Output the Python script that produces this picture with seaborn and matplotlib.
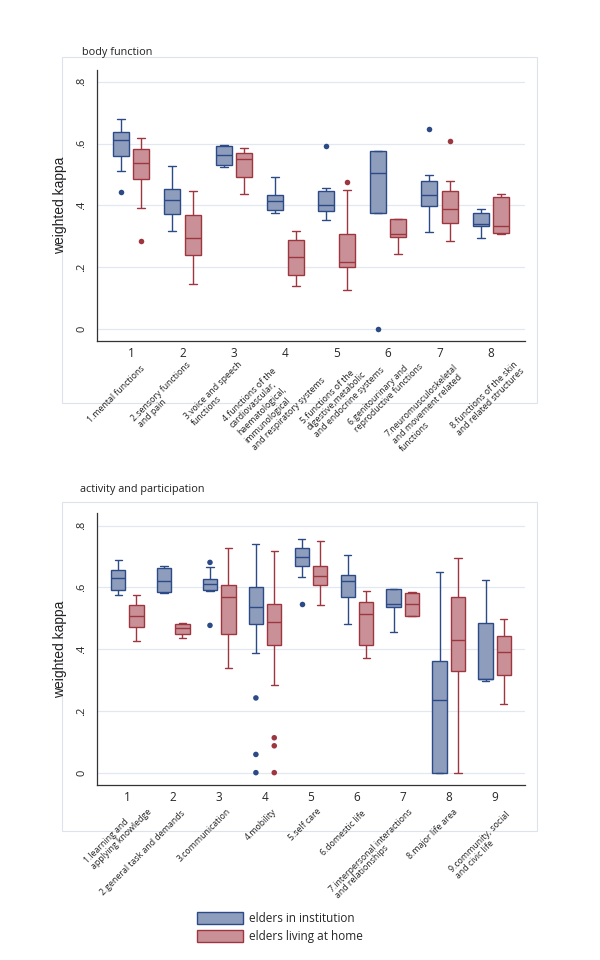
import matplotlib.pyplot as plt
import matplotlib.patches as mpatches
from matplotlib.font_manager import FontProperties
import numpy as np
import pandas as pd
import seaborn as sns

# --- データ（図から読み取った値: 下ひげ, Q1, 中央値, Q3, 上ひげ）---
groups = ['elders in institution', 'elders living at home']

bf_labels = ['1.mental functions',
             '2.sensory functions\nand pain',
             '3.voice and speech\nfunctions',
             '4.functions of the\ncardiovascular,\nhaematological,\nimmunological\nand respiratory systems',
             '5.functions of the\ndigestive,metabolic\nand endocrine systems',
             '6.genitourinary and\nreproductive functions',
             '7.neuromusculoskeletal\nand movement related\nfunctions',
             '8.functions of the skin\nand related structures']
bf_inst = [[0.510, 0.559, 0.613, 0.636, 0.678],
           [0.317, 0.372, 0.418, 0.452, 0.528],
           [0.523, 0.529, 0.562, 0.592, 0.596],
           [0.374, 0.384, 0.413, 0.434, 0.492],
           [0.351, 0.381, 0.402, 0.445, 0.455],
           [0.375, 0.375, 0.506, 0.577, 0.577],
           [0.314, 0.398, 0.434, 0.480, 0.499],
           [0.293, 0.333, 0.340, 0.376, 0.387]]
bf_home = [[0.391, 0.486, 0.536, 0.583, 0.619],
           [0.147, 0.238, 0.295, 0.370, 0.445],
           [0.438, 0.492, 0.550, 0.569, 0.585],
           [0.138, 0.175, 0.232, 0.287, 0.318],
           [0.126, 0.200, 0.216, 0.308, 0.451],
           [0.243, 0.299, 0.307, 0.355, 0.355],
           [0.285, 0.343, 0.387, 0.447, 0.480],
           [0.307, 0.309, 0.333, 0.428, 0.438]]
bf_inst_out = [[0.442], [], [], [], [0.591], [0.0], [0.647], []]
bf_home_out = [[0.285], [], [], [], [0.476], [], [0.609], []]

ap_labels = ['1.learning and\napplying knowledge',
             '2.general task and demands',
             '3.communication',
             '4.mobility',
             '5.self care',
             '6.domestic life',
             '7.interpersonal interactions\nand relationships',
             '8.major life area',
             '9.community, social\nand civic life']
ap_inst = [[0.574, 0.592, 0.632, 0.655, 0.688],
           [0.583, 0.585, 0.622, 0.662, 0.670],
           [0.588, 0.593, 0.611, 0.626, 0.667],
           [0.386, 0.481, 0.537, 0.601, 0.740],
           [0.633, 0.669, 0.697, 0.727, 0.758],
           [0.483, 0.569, 0.620, 0.639, 0.706],
           [0.456, 0.537, 0.546, 0.594, 0.596],
           [0.000, 0.000, 0.235, 0.361, 0.651],
           [0.298, 0.302, 0.303, 0.484, 0.624]]
ap_home = [[0.428, 0.473, 0.508, 0.543, 0.577],
           [0.436, 0.448, 0.467, 0.483, 0.486],
           [0.339, 0.450, 0.568, 0.607, 0.728],
           [0.284, 0.412, 0.488, 0.546, 0.719],
           [0.543, 0.609, 0.638, 0.670, 0.751],
           [0.371, 0.413, 0.513, 0.552, 0.589],
           [0.506, 0.506, 0.545, 0.582, 0.584],
           [0.000, 0.328, 0.430, 0.568, 0.695],
           [0.223, 0.315, 0.392, 0.444, 0.499]]
ap_inst_out = [[], [], [0.681, 0.477], [0.242, 0.059, 0.0], [0.545], [], [], [], []]
ap_home_out = [[], [], [], [0.113, 0.087, 0.0], [], [], [], [], []]

yticks = [0, 0.2, 0.4, 0.6, 0.8]
ytick_labels = ['0', '.2', '.4', '.6', '.8']

# 回転ラベル1行目の右端の位置（目盛りからのずれ, px）
bf_lab_dx = [12, 7, 7, -10, 16, 18, 17, 25]
bf_lab_dy = [26, 22, 22, 28, 30, 26, 25, 22]
ap_lab_dx = [0, 11, 10, 10, 9, 8, 8, 7, 14]
ap_lab_dy = [35, 27, 25, 25, 25, 27, 25, 25, 28]

# --- スタイル ---
fills = ['#8e9dbc', '#c99197']
edges = ['#2b4a86', '#9e3640']
sns.set_style('white')
plt.rcParams['font.family'] = ['Open Sans', 'DejaVu Sans']
LAB_FS = 6.3
LAB_LS = 1.25


def make_long(cats, inst, home):
    rows = []
    for c, a, b in zip(cats, inst, home):
        rows += [(c, groups[0], v) for v in a]
        rows += [(c, groups[1], v) for v in b]
    return pd.DataFrame(rows, columns=['cat', 'group', 'value'])


def rotated_labels(fig, ax, labels, dxs, dys):
    # 1行目を右端で合わせ、残りの行は1行目の左端から左揃えで続ける
    renderer = fig.canvas.get_renderer()
    prop = FontProperties(family=['Open Sans', 'DejaVu Sans'], size=LAB_FS)
    d = np.array([1, 1]) / np.sqrt(2)
    n = np.array([1, -1]) / np.sqrt(2)
    step = LAB_FS * fig.dpi / 72 * LAB_LS
    kw = dict(xycoords='figure pixels', rotation=45, rotation_mode='anchor',
              fontsize=LAB_FS, color='#222222')
    for i, lab in enumerate(labels):
        first, *rest = lab.split('\n')
        p = ax.get_xaxis_transform().transform((i, 0)) + [dxs[i], -dys[i]]
        ax.annotate(first, xy=p, ha='right', va='center', **kw)
        if rest:
            w, _, _ = renderer.get_text_width_height_descent(first, prop, False)
            s = p - w * d + 0.45 * step * n
            ax.annotate('\n'.join(rest), xy=s, ha='left', va='top',
                        ma='left', linespacing=LAB_LS, **kw)


def draw_panel(ax, labels, inst, home, inst_out, home_out, ylim):
    cats = [str(i + 1) for i in range(len(labels))]
    box_df = make_long(cats, inst, home)
    out_df = make_long(cats, inst_out, home_out)
    for g, edge in zip(groups, edges):
        sns.boxplot(data=box_df[box_df['group'] == g], x='cat', y='value',
                    hue='group', order=cats, hue_order=groups, dodge=True,
                    palette=dict(zip(groups, fills)), saturation=1,
                    whis=(0, 100), showfliers=False, width=0.8, gap=0.22,
                    linewidth=1.0, linecolor=edge, legend=False, ax=ax)
    sns.stripplot(data=out_df, x='cat', y='value', hue='group', order=cats,
                  hue_order=groups, palette=dict(zip(groups, edges)),
                  dodge=True, jitter=False, size=4, legend=False, ax=ax,
                  zorder=5)

    ax.set_xlim(-0.66, len(cats) - 1 + 0.66)
    ax.set_ylim(*ylim)
    ax.set_yticks(yticks)
    ax.set_yticklabels(ytick_labels, rotation=90, va='center')
    ax.set_xlabel('')
    ax.set_ylabel('weighted kappa', family=['Liberation Sans', 'DejaVu Sans'],
                  fontsize=10, color='#222222')
    ax.yaxis.set_label_coords(-0.07, 0.5)
    ax.yaxis.grid(True, color='#e3e8f0', lw=0.9)
    ax.set_axisbelow(True)
    ax.tick_params(axis='y', length=5, width=0.8, color='#333333',
                   labelsize=8, pad=2)
    ax.tick_params(axis='x', length=0, labelsize=8.5, pad=4)
    for s in ['top', 'right']:
        ax.spines[s].set_visible(False)
    for s in ['left', 'bottom']:
        ax.spines[s].set_color('#333333')
        ax.spines[s].set_linewidth(0.9)


fig = plt.figure(figsize=(6, 9.6), dpi=100)
ax1 = fig.add_axes([97 / 600, 1 - 341 / 960, 428 / 600, 271 / 960])
ax2 = fig.add_axes([97 / 600, 1 - 785 / 960, 428 / 600, 272 / 960])

draw_panel(ax1, bf_labels, bf_inst, bf_home, bf_inst_out, bf_home_out,
           (-0.039, 0.838))
draw_panel(ax2, ap_labels, ap_inst, ap_home, ap_inst_out, ap_home_out,
           (-0.040, 0.841))
rotated_labels(fig, ax1, bf_labels, bf_lab_dx, bf_lab_dy)
rotated_labels(fig, ax2, ap_labels, ap_lab_dx, ap_lab_dy)

# パネル枠とタイトル
for top, bottom in [(57.5, 403), (502, 831)]:
    fig.add_artist(mpatches.Rectangle(
        (62 / 600, 1 - bottom / 960), 475 / 600, (bottom - top) / 960,
        transform=fig.transFigure, fill=False, ec='#dde3ea', lw=0.8,
        zorder=0))
fig.text(82 / 600, 1 - 52 / 960, 'body function', fontsize=7.8,
         va='center', color='#222222')
fig.text(80 / 600, 1 - 490 / 960, 'activity and participation',
         fontsize=7.8, va='center', color='#222222')

handles = [mpatches.Patch(fc=f, ec=e, lw=1.0) for f, e in zip(fills, edges)]
fig.legend(handles, groups, loc='upper left',
           bbox_to_anchor=(197 / 600, 1 - 912 / 960), frameon=False,
           fontsize=8.5, handlelength=3.9, handleheight=1.15,
           labelspacing=0.45, handletextpad=0.5, borderpad=0,
           borderaxespad=0)

fig.savefig('out.png', dpi=100, facecolor='white')
